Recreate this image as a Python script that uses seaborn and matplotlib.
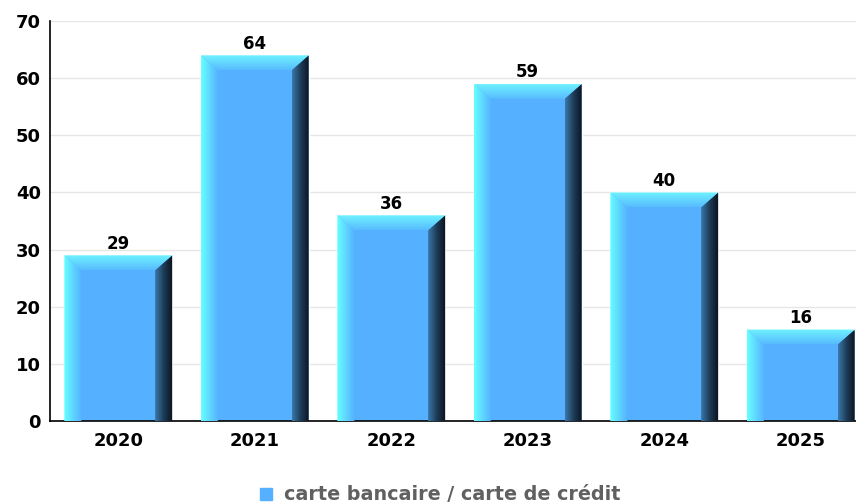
import matplotlib
matplotlib.use("Agg")
import matplotlib.pyplot as plt
import numpy as np
import pandas as pd
import seaborn as sns
from matplotlib.colors import LinearSegmentedColormap
from matplotlib.lines import Line2D
from matplotlib.patches import Polygon


years = ["2020", "2021", "2022", "2023", "2024", "2025"]
counts = [29, 64, 36, 59, 40, 16]
series_name = "carte bancaire / carte de crédit"

BAR_BLUE = "#55b1ff"
LEFT_LIGHT = "#66ffff"
TOP_LIGHT = "#6ff2ff"
RIGHT_MID = "#3a78aa"
RIGHT_DARK = "#0a121c"

sns.set_theme(style="white")
plt.rcParams["font.family"] = ["DejaVu Sans"]
plt.rcParams["text.color"] = "black"
plt.rcParams["xtick.labelcolor"] = "black"
plt.rcParams["ytick.labelcolor"] = "black"


def shade(ax, verts, extent, colors, horizontal=True):
    cmap = LinearSegmentedColormap.from_list("grad", colors)
    grad = np.linspace(0, 1, 64)
    grad = grad.reshape(1, -1) if horizontal else grad.reshape(-1, 1)
    im = ax.imshow(grad, cmap=cmap, extent=extent, aspect="auto", origin="lower",
                   interpolation="bilinear", zorder=3)
    clip = Polygon(verts, closed=True, transform=ax.transData)
    im.set_clip_path(clip)


fig = plt.figure(figsize=(8.56, 5.04), dpi=100)
ax = fig.add_axes([50 / 856, 83 / 504, 806 / 856, 400 / 504])

df = pd.DataFrame({"year": years, "count": counts})
sns.barplot(data=df, x="year", y="count", color=BAR_BLUE, saturation=1,
            width=0.79, ax=ax, zorder=2)

bars = list(ax.containers[0])
dx, dy = 0.125, 2.6
for bar in bars:
    x0 = bar.get_x()
    x1 = x0 + bar.get_width()
    h = bar.get_height()
    # left highlight
    shade(ax, [(x0, 0), (x0, h), (x0 + dx, h - dy), (x0 + dx, 0)],
          (x0, x0 + dx, 0, h), [LEFT_LIGHT, "#5fd6ff", BAR_BLUE])
    # right dark side
    shade(ax, [(x1 - dx, 0), (x1 - dx, h - dy), (x1, h), (x1, 0)],
          (x1 - dx, x1, 0, h), [RIGHT_MID, "#1d3a55", RIGHT_DARK])
    # top bevel
    shade(ax, [(x0, h), (x1, h), (x1 - dx, h - dy), (x0 + dx, h - dy)],
          (x0, x1, h - dy, h), ["#58bcff", TOP_LIGHT], horizontal=False)

ax.bar_label(ax.containers[0], fontsize=12, fontweight="bold", padding=2)

ax.set_yticks(range(0, 71, 10))
ax.set_xticks(range(len(years)))
ax.set_xticklabels(years)
ax.set_xticks(np.arange(-0.5, len(years) - 1, 1), minor=True)
ax.set_xlim(-0.5, 5.405)
ax.set_ylim(0, 70)
ax.tick_params(axis="x", which="major", length=0, pad=8, labelsize=13)
ax.tick_params(axis="x", which="minor", length=5, width=1, direction="out", color="black")
ax.tick_params(axis="y", length=5, width=1, direction="out", color="black", pad=1.5, labelsize=13)
for lab in ax.get_xticklabels() + ax.get_yticklabels():
    lab.set_fontweight("bold")
ax.set_xlabel("")
ax.set_ylabel("")

ax.yaxis.grid(True, color="#e6e6e6", linewidth=1)
ax.set_axisbelow(True)
sns.despine(ax=ax)
for side in ["left", "bottom"]:
    ax.spines[side].set_color("black")
    ax.spines[side].set_linewidth(1.2)

handle = Line2D([], [], marker="s", linestyle="none", color=BAR_BLUE, markersize=9)
fig.legend([handle], [series_name], loc="center", bbox_to_anchor=(0.511, 0.018),
           frameon=False, handletextpad=0.35, handlelength=1.2, labelcolor="#606060",
           prop={"weight": "bold", "size": 13.8})

fig.savefig("out.png", dpi=100)
plt.close(fig)
